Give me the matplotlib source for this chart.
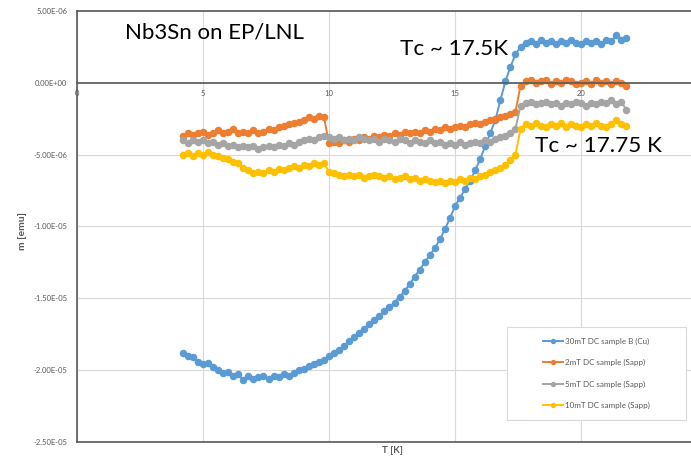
import numpy as np
import matplotlib
matplotlib.use("Agg")
import matplotlib.pyplot as plt
from matplotlib.patches import Rectangle
from matplotlib.ticker import FuncFormatter

plt.rcParams['font.family'] = ['Lato', 'DejaVu Sans']

# temperature sweep [K]
temps = [
    4.2, 4.4, 4.6, 4.8, 5.0, 5.2, 5.4, 5.6, 5.8, 6.0,
    6.2, 6.4, 6.6, 6.8, 7.0, 7.2, 7.4, 7.6, 7.8, 8.0,
    8.2, 8.4, 8.6, 8.8, 9.0, 9.2, 9.4, 9.6, 9.8, 10.0,
    10.2, 10.4, 10.6, 10.8, 11.0, 11.2, 11.4, 11.6, 11.8, 12.0,
    12.2, 12.4, 12.6, 12.8, 13.0, 13.2, 13.4, 13.6, 13.8, 14.0,
    14.2, 14.4, 14.6, 14.8, 15.0, 15.2, 15.4, 15.6, 15.8, 16.0,
    16.2, 16.4, 16.6, 16.8, 17.0, 17.2, 17.4, 17.6, 17.8, 18.0,
    18.2, 18.4, 18.6, 18.8, 19.0, 19.2, 19.4, 19.6, 19.8, 20.0,
    20.2, 20.4, 20.6, 20.8, 21.0, 21.2, 21.4, 21.6, 21.8,
]

# moments in units of 1e-6 emu
m_30mT_cu = [
    -18.8, -19.0, -19.1, -19.4, -19.6, -19.5, -19.8, -20.0, -20.2, -20.1,
    -20.4, -20.3, -20.7, -20.4, -20.6, -20.5, -20.4, -20.6, -20.4, -20.5,
    -20.3, -20.4, -20.2, -20.0, -19.9, -19.7, -19.6, -19.4, -19.3, -19.0,
    -18.8, -18.6, -18.3, -18.0, -17.7, -17.4, -17.1, -16.8, -16.5, -16.2,
    -15.9, -15.6, -15.3, -14.9, -14.5, -14.0, -13.5, -13.0, -12.5, -12.0,
    -11.5, -10.9, -10.2, -9.4, -8.6, -8.0, -7.4, -6.8, -6.1, -5.3,
    -4.4, -3.5, -2.6, -1.2, 0.1, 1.1, 2.0, 2.5, 2.8, 2.9,
    2.7, 3.0, 2.8, 2.9, 2.7, 2.9, 2.8, 3.0, 2.8, 2.7,
    2.9, 2.8, 2.9, 2.7, 3.0, 2.9, 3.3, 3.0, 3.1,
]

m_2mT_sapp = [
    -3.7, -3.5, -3.6, -3.5, -3.4, -3.6, -3.5, -3.3, -3.5, -3.4,
    -3.2, -3.5, -3.4, -3.5, -3.3, -3.5, -3.4, -3.2, -3.3, -3.1,
    -3.0, -2.9, -2.8, -2.7, -2.6, -2.4, -2.5, -2.3, -2.4, -4.2,
    -4.1, -4.2, -4.0, -4.1, -3.9, -4.0, -3.8, -3.9, -3.7, -3.8,
    -3.6, -3.7, -3.5, -3.6, -3.4, -3.5, -3.4, -3.5, -3.3, -3.4,
    -3.2, -3.3, -3.1, -3.2, -3.1, -3.0, -3.1, -2.9, -2.8, -2.9,
    -2.7, -2.6, -2.5, -2.4, -2.3, -2.2, -2.0, -0.2, 0.1, 0.2,
    0.0, 0.1, 0.2, -0.1, 0.1, 0.0, 0.2, 0.1, -0.1, 0.0,
    0.1, -0.1, 0.2, 0.0, 0.1, -0.1, 0.1, 0.0, -0.2,
]

m_5mT_sapp = [
    -4.0, -4.2, -4.0, -4.1, -4.0, -4.2, -4.1, -4.3, -4.2, -4.4,
    -4.3, -4.5, -4.4, -4.5, -4.4, -4.6, -4.5, -4.4, -4.5, -4.3,
    -4.4, -4.2, -4.3, -4.1, -4.0, -3.9, -4.0, -3.8, -3.7, -3.8,
    -3.9, -3.8, -4.0, -3.9, -4.0, -3.8, -3.9, -4.0, -3.9, -4.1,
    -3.9, -4.0, -4.1, -3.9, -4.0, -4.2, -4.0, -4.1, -4.2, -4.0,
    -4.2, -4.1, -4.3, -4.2, -4.3, -4.1, -4.3, -4.2, -4.1, -4.2,
    -4.0, -4.1, -3.9, -3.8, -3.7, -3.5, -3.2, -1.6, -1.4, -1.3,
    -1.5, -1.4, -1.3, -1.5, -1.4, -1.6, -1.4, -1.5, -1.3, -1.4,
    -1.6, -1.4, -1.5, -1.3, -1.4, -1.2, -1.5, -1.3, -1.9,
]

m_10mT_sapp = [
    -5.0, -4.9, -5.1, -4.9, -5.0, -4.8, -5.0, -5.1, -5.2, -5.3,
    -5.5, -5.6, -5.9, -6.1, -6.3, -6.2, -6.3, -6.1, -6.2, -6.0,
    -6.1, -5.9, -5.8, -5.9, -5.7, -5.8, -5.6, -5.7, -5.6, -6.2,
    -6.3, -6.4, -6.5, -6.4, -6.5, -6.4, -6.6, -6.5, -6.4, -6.5,
    -6.6, -6.5, -6.7, -6.6, -6.5, -6.7, -6.6, -6.8, -6.7, -6.8,
    -6.9, -6.8, -7.0, -6.8, -6.9, -6.7, -6.8, -6.6, -6.7, -6.5,
    -6.4, -6.2, -6.1, -5.9, -5.7, -5.4, -5.0, -3.2, -2.9, -3.0,
    -2.8, -3.0, -3.1, -2.9, -3.0, -2.8, -3.1, -2.9, -3.0, -3.1,
    -2.9, -3.0, -2.8, -3.0, -3.1, -2.9, -2.6, -2.9, -3.0,
]

labels = ["30mT DC sample B (Cu)", "2mT DC sample (Sapp)",
          "5mT DC sample (Sapp)", "10mT DC sample (Sapp)"]
colors = ["#5B9BD5", "#ED7D31", "#A5A5A5", "#FFC000"]
series = [m_30mT_cu, m_2mT_sapp, m_5mT_sapp, m_10mT_sapp]

y_ticks = [-2.5e-5, -2.0e-5, -1.5e-5, -1.0e-5, -5.0e-6, 0.0, 5.0e-6]
x_ticks = [0, 5, 10, 15, 20]

TEXT_GREY = "#595959"
AXIS_GREY = "#595959"

fig = plt.figure(figsize=(6.91, 4.58), dpi=100)
ax = fig.add_axes([77 / 691, 16 / 458, 630 / 691, 431 / 458])

for vals, label, color in zip(series, labels, colors):
    ax.plot(temps, np.array(vals) * 1e-6, "-o", color=color, mec=color,
            ms=4.4, lw=1.4, label=label)

ax.set_xlim(0, 25)
ax.set_ylim(-2.5e-5, 5e-6)
ax.set_xticks(x_ticks)
ax.set_yticks(y_ticks)
ax.yaxis.set_major_formatter(FuncFormatter(lambda v, p: f"{v:.2E}"))
ax.grid(color="#D9D9D9", lw=0.8)
ax.set_axisbelow(True)

# horizontal axis crosses at m = 0, plot area keeps a frame
ax.spines["bottom"].set_position(("data", 0))
ax.spines["right"].set_visible(False)
for s in ["bottom", "top", "left"]:
    ax.spines[s].set_color(AXIS_GREY)
    ax.spines[s].set_linewidth(1.2)
ax.plot([0, 1], [0, 0], transform=ax.transAxes, color=AXIS_GREY, lw=1.2,
        clip_on=False)

ax.tick_params(axis="both", length=0, labelsize=5.5, labelcolor=TEXT_GREY)
ax.tick_params(axis="x", pad=5)
ax.tick_params(axis="y", pad=7)

ax.set_xlabel("T [K]", fontsize=7, fontweight="bold", color=TEXT_GREY, va="center")
ax.xaxis.set_label_coords(0.5, -0.0186)
ax.set_ylabel("m [emu]", fontsize=7.5, fontweight="bold", color=TEXT_GREY, va="center")
ax.yaxis.set_label_coords(-0.087, 0.49)

# annotations
ax.text(1.9, 3.06e-6, "Nb3Sn on EP/LNL", fontsize=16, va="baseline", ha="left")
ax.text(12.8, 1.94e-6, "Tc ~ 17.5K", fontsize=16.2, va="baseline", ha="left")
ax.text(18.17, -4.79e-6, "Tc ~ 17.75 K", fontsize=16.2, va="baseline", ha="left")

# legend box
box = Rectangle((507 / 691, 1 - 420 / 458), 179 / 691, 93 / 458,
                transform=fig.transFigure, facecolor="white",
                edgecolor="#D9D9D9", lw=0.8, zorder=4)
ax.add_patch(box)
ax.legend(loc="center", bbox_to_anchor=(596.5 / 691, 1 - 373.5 / 458),
          bbox_transform=fig.transFigure, frameon=False, fontsize=5.8,
          labelcolor=TEXT_GREY, handlelength=2.4, handletextpad=0.3,
          labelspacing=1.75, borderpad=0, markerscale=0.65)
ax.set_xlim(0, 25)
ax.set_ylim(-2.5e-5, 5e-6)

fig.savefig("out.png", dpi=100)
